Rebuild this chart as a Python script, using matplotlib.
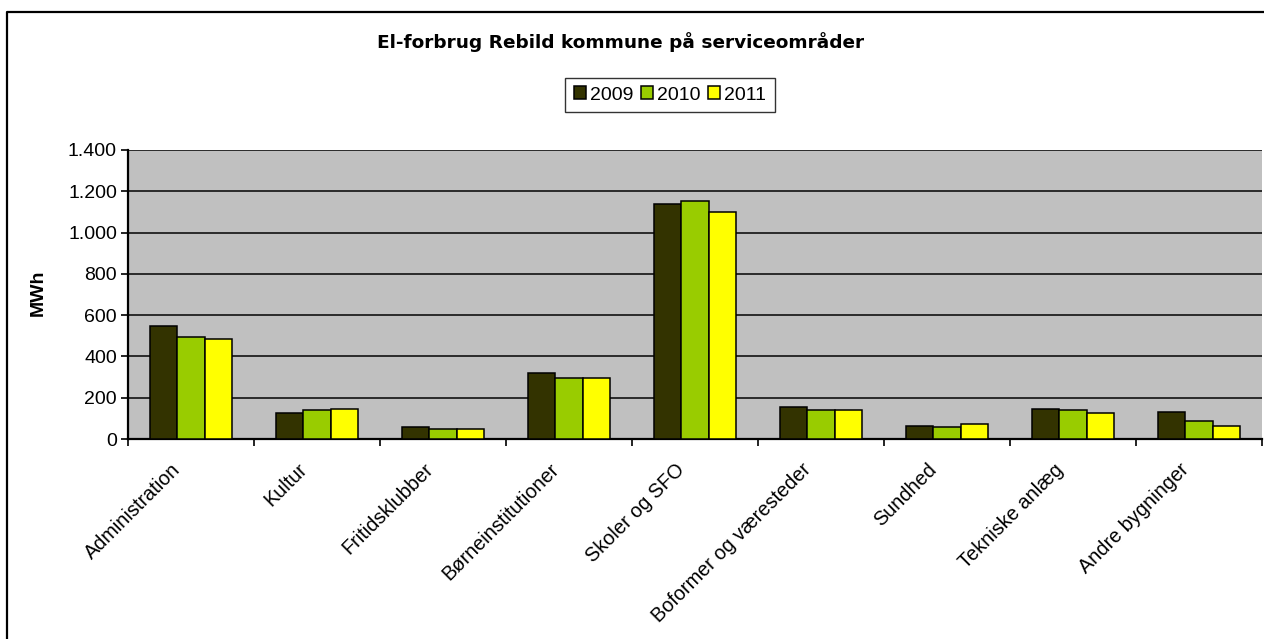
import numpy as np
import matplotlib.pyplot as plt
from matplotlib.lines import Line2D
from matplotlib.ticker import FuncFormatter, FixedLocator
from matplotlib.transforms import ScaledTranslation

kategorier = ["Administration", "Kultur", "Fritidsklubber", "Børneinstitutioner",
              "Skoler og SFO", "Boformer og væresteder", "Sundhed",
              "Tekniske anlæg", "Andre bygninger"]
aar = ["2009", "2010", "2011"]
v2009 = [549, 124, 58, 320, 1139, 155, 64, 147, 132]
v2010 = [494, 139, 48, 297, 1153, 139, 57, 139, 86]
v2011 = [486, 147, 48, 297, 1100, 139, 73, 124, 64]
farver = ["#333300", "#99CC00", "#FFFF00"]

plt.rcParams["font.family"] = ["Liberation Sans", "DejaVu Sans"]
fs = 14

W, H = 1264, 639
fig = plt.figure(figsize=(W / 100, H / 100), dpi=100)
ax = fig.add_axes([128 / W, 1 - 439 / H, (1262 - 128) / W, (439 - 150) / H])

x = np.arange(len(kategorier))
bw = 0.217
for i, (vals, c, lab) in enumerate(zip([v2009, v2010, v2011], farver, aar)):
    ax.bar(x + (i - 1) * bw, vals, width=bw, color=c, edgecolor="black",
           linewidth=1.1, label=lab, zorder=3)

ax.set_facecolor("#C0C0C0")
ax.set_xlim(-0.5, len(kategorier) - 0.5)
ax.set_ylim(0, 1400)
ax.set_yticks(np.arange(0, 1401, 200))
ax.yaxis.set_major_formatter(FuncFormatter(lambda v, p: f"{int(v):,}".replace(",", ".")))
ax.grid(axis="y", color="#111111", linewidth=1.2, zorder=1)

ax.set_xticks(x)
ax.set_xticklabels(kategorier, rotation=45, ha="right", va="center",
                   rotation_mode="anchor", fontsize=fs + 0.3)
ax.tick_params(axis="x", length=0, pad=20)
forskyd = ScaledTranslation(-13 / 100, 0, fig.dpi_scale_trans)
for t in ax.get_xticklabels():
    t.set_transform(t.get_transform() + forskyd)
ax.xaxis.set_minor_locator(FixedLocator(np.arange(-0.5, len(kategorier), 1.0)))
ax.tick_params(axis="x", which="minor", length=5, width=1.2, color="black")
ax.tick_params(axis="y", length=5, width=1.2, labelsize=fs, pad=3)

for s in ["top", "right"]:
    ax.spines[s].set_visible(False)
for s in ["left", "bottom"]:
    ax.spines[s].set_linewidth(1.6)

ax.set_ylabel("MWh", fontsize=fs, fontweight="bold", labelpad=0)
ax.yaxis.set_label_coords((47 - 128) / (1262 - 128), (439 - 293) / (439 - 150))

fig.text(621 / W, 1 - 42 / H, "El-forbrug Rebild kommune på serviceområder",
         ha="center", va="center", fontsize=13.3, fontweight="bold", family="DejaVu Sans")

leg = fig.legend(loc="center", bbox_to_anchor=(670 / W, 1 - 95 / H), ncol=3,
                 fontsize=fs, frameon=True, fancybox=False, handlelength=0.62,
                 handleheight=0.62, handletextpad=0.2, columnspacing=0.4,
                 borderpad=0.45, borderaxespad=0)
leg.get_frame().set_edgecolor("black")
leg.get_frame().set_linewidth(1.0)

fig.lines.append(Line2D([7 / W, 7 / W, 1.0], [0.0, 1 - 12 / H, 1 - 12 / H],
                        transform=fig.transFigure, color="black", linewidth=1.6))

fig.savefig("out.png", dpi=100)
